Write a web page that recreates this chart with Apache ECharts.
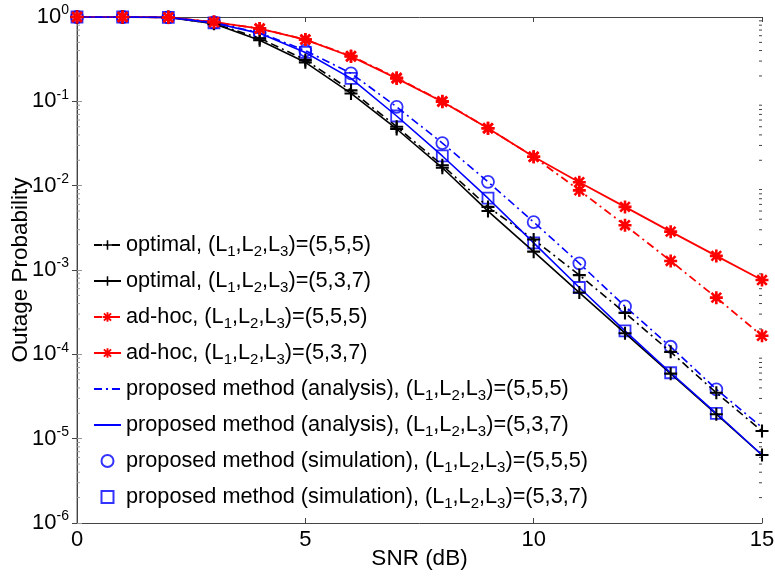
<!DOCTYPE html>
<html>
<head>
<meta charset="utf-8">
<script src="https://cdn.jsdelivr.net/npm/echarts@6/dist/echarts.min.js"></script>
<style>
  html, body { margin: 0; padding: 0; background: #fff; }
  #chart { width: 775px; height: 577px; }
</style>
</head>
<body>
<div id="chart"></div>
<script>
// SNR grid (dB)
const snr = [0, 1, 2, 3, 4, 5, 6, 7, 8, 9, 10, 11, 12, 13, 14, 15];

// Outage probability curves
const optimal555  = [1, 1, 0.99, 0.84, 0.56, 0.31, 0.135, 0.05, 0.0175, 0.0056, 0.0023, 0.00087, 0.00031, 0.000107, 3.5e-5, 1.23e-5];
const optimal537  = [1, 1, 0.99, 0.83, 0.53, 0.29, 0.124, 0.047, 0.0163, 0.0050, 0.00165, 0.00054, 0.000178, 5.9e-5, 1.95e-5, 6.4e-6];
const adhoc555    = [1, 1, 0.99, 0.87, 0.73, 0.54, 0.345, 0.19, 0.1, 0.048, 0.022, 0.0088, 0.0034, 0.00128, 0.00047, 0.000166];
const adhoc537    = [1, 1, 0.99, 0.87, 0.73, 0.54, 0.34, 0.187, 0.099, 0.048, 0.022, 0.011, 0.0056, 0.00285, 0.00147, 0.00076];
const analysis555 = [1, 1, 0.99, 0.86, 0.65, 0.40, 0.215, 0.086, 0.032, 0.0111, 0.0037, 0.0012, 0.00037, 0.000123, 3.85e-5, 1.36e-5];
const analysis537 = [1, 1, 0.99, 0.85, 0.64, 0.38, 0.187, 0.067, 0.0225, 0.0071, 0.0021, 0.00062, 0.00019, 6.05e-5, 2.0e-5, 6.4e-6];
// Monte-Carlo points (SNR 0..14)
const simSnr      = [0, 1, 2, 3, 4, 5, 6, 7, 8, 9, 10, 11, 12, 13, 14];
const simulation555 = [1, 1, 0.99, 0.86, 0.65, 0.40, 0.215, 0.086, 0.032, 0.0111, 0.0037, 0.0012, 0.00037, 0.000123, 3.85e-5];
const simulation537 = [1, 1, 0.99, 0.85, 0.64, 0.38, 0.187, 0.067, 0.0225, 0.0071, 0.0021, 0.00062, 0.00019, 6.05e-5, 2.0e-5];

// Axis ticks
const xTicks = [0, 5, 10, 15];
const yMinExp = -6, yMaxExp = 0;
const decadeSteps = [2, 3, 4, 5, 6, 7, 8, 9];

const pair = (xs, ys) => xs.map((x, i) => [x, ys[i]]);

// minor tick positions of the log axis: 2..9 times each decade
const minorTickValues = [];
for (let e = yMinExp; e < yMaxExp; e++) {
  decadeSteps.forEach(m => minorTickValues.push([m * Math.pow(10, e)]));
}

const PLUS = 'path://M0,4.2H10V5.8H0Z M4.2,0H5.8V10H4.2Z';
const STAR = 'path://M0,4.0H10V6.0H0Z M4.0,0H6.0V10H4.0Z M0.6,2.0L2.0,0.6L9.4,8.0L8.0,9.4Z M8.0,0.6L9.4,2.0L2.0,9.4L0.6,8.0Z';
const SQUARE = 'path://M0,0H10V10H0Z';
const DASHDOT = [8, 4, 2, 4];

const chart = echarts.init(document.getElementById('chart'), null, { renderer: 'canvas' });

const fontFamily = 'Liberation Sans, Arial, sans-serif';

const supRich = {
  b: { fontSize: 22, fontFamily, color: '#000', lineHeight: 24 },
  s: { fontSize: 14, fontFamily, color: '#000', lineHeight: 14, padding: [0, 0, 13, 0] }
};

const names = [
  'optimal, (L1,L2,L3)=(5,5,5)',
  'optimal, (L1,L2,L3)=(5,3,7)',
  'ad-hoc, (L1,L2,L3)=(5,5,5)',
  'ad-hoc, (L1,L2,L3)=(5,3,7)',
  'proposed method (analysis), (L1,L2,L3)=(5,5,5)',
  'proposed method (analysis), (L1,L2,L3)=(5,3,7)',
  'proposed method (simulation), (L1,L2,L3)=(5,5,5)',
  'proposed method (simulation), (L1,L2,L3)=(5,3,7)'
];

const option = {
  animation: false,
  backgroundColor: '#fff',
  grid: { left: 77, right: 13, top: 17, bottom: 54, outerBoundsMode: 'none', containLabel: false },
  legend: {
    orient: 'vertical',
    left: 93,
    top: 231,
    padding: 0,
    itemWidth: 27,
    itemHeight: 12,
    itemGap: 8,
    selectedMode: false,
    data: [
      { name: names[0] },
      { name: names[1] },
      { name: names[2] },
      { name: names[3] },
      { name: names[4], itemStyle: { opacity: 0 } },
      { name: names[5], itemStyle: { opacity: 0 } },
      { name: names[6], icon: 'circle' },
      { name: names[7], icon: SQUARE }
    ],
    textStyle: {
      fontSize: 21.7, fontFamily, color: '#000',
      rich: {
        sub: { fontSize: 15, fontFamily, color: '#000', lineHeight: 15, padding: [13, 0, 0, 0] }
      }
    },
    formatter: name => name.replace(/L(\d)/g, 'L{sub|$1}')
  },
  xAxis: [
    {
      type: 'value', min: 0, max: 15, interval: 5,
      name: 'SNR (dB)', nameLocation: 'middle', nameGap: 24, nameMoveOverlap: false,
      nameTextStyle: { fontSize: 22.5, fontFamily, color: '#000' },
      axisLine: { lineStyle: { color: '#444', width: 1 } },
      axisTick: { inside: true, length: 5, lineStyle: { color: '#444' } },
      axisLabel: { fontSize: 22, fontFamily, color: '#000', margin: 6,
        formatter: v => xTicks.includes(v) ? String(v) : '' },
      splitLine: { show: false }
    },
    {
      type: 'value', min: 0, max: 15, interval: 5, position: 'top',
      axisLine: { lineStyle: { color: '#444', width: 1 } },
      axisTick: { inside: true, length: 5, lineStyle: { color: '#444' } },
      axisLabel: { show: false },
      splitLine: { show: false }
    }
  ],
  yAxis: [
    {
      type: 'log', logBase: 10, min: Math.pow(10, yMinExp), max: Math.pow(10, yMaxExp),
      name: 'Outage Probability', nameLocation: 'middle', nameGap: 45, nameMoveOverlap: false,
      nameTextStyle: { fontSize: 22.5, fontFamily, color: '#000' },
      axisLine: { show: true, lineStyle: { color: '#999', width: 1.5 } },
      axisTick: { inside: true, length: 5, lineStyle: { color: '#999' } },
      minorTick: { show: false },
      axisLabel: {
        margin: 8,
        formatter: v => '{b|10}{s|' + Math.round(Math.log10(v)) + '}',
        rich: supRich
      },
      splitLine: { show: false }
    },
    {
      type: 'log', logBase: 10, min: Math.pow(10, yMinExp), max: Math.pow(10, yMaxExp),
      position: 'right',
      axisLine: { show: true, lineStyle: { color: '#444', width: 1 } },
      axisTick: { inside: true, length: 5, lineStyle: { color: '#444' } },
      minorTick: { show: false },
      axisLabel: { show: false },
      splitLine: { show: false }
    }
  ],
  series: [
    {
      name: names[0], type: 'line', data: pair(snr, optimal555),
      symbol: PLUS, symbolSize: 13, color: '#000',
      itemStyle: { color: '#000' },
      lineStyle: { color: '#000', width: 1.6, type: DASHDOT }
    },
    {
      name: names[1], type: 'line', data: pair(snr, optimal537),
      symbol: PLUS, symbolSize: 13, color: '#000',
      itemStyle: { color: '#000' },
      lineStyle: { color: '#000', width: 1.6, type: 'solid' }
    },
    {
      name: names[2], type: 'line', data: pair(snr, adhoc555),
      symbol: STAR, symbolSize: 13, color: '#ff0000',
      itemStyle: { color: '#ff0000' },
      lineStyle: { color: '#ff0000', width: 1.8, type: DASHDOT }
    },
    {
      name: names[3], type: 'line', data: pair(snr, adhoc537),
      symbol: STAR, symbolSize: 13, color: '#ff0000',
      itemStyle: { color: '#ff0000' },
      lineStyle: { color: '#ff0000', width: 1.8, type: 'solid' }
    },
    {
      name: names[4], type: 'line', data: pair(snr, analysis555),
      symbol: 'none', color: '#0000ff',
      lineStyle: { color: '#0000ff', width: 1.6, type: DASHDOT }
    },
    {
      name: names[5], type: 'line', data: pair(snr, analysis537),
      symbol: 'none', color: '#0000ff',
      lineStyle: { color: '#0000ff', width: 1.6, type: 'solid' }
    },
    {
      name: names[6], type: 'scatter', data: pair(simSnr, simulation555),
      symbol: 'circle', symbolSize: 12,
      itemStyle: { color: 'rgba(0,0,0,0)', borderColor: '#0000ff', borderWidth: 1.8 }
    },
    {
      name: names[7], type: 'scatter', data: pair(simSnr, simulation537),
      symbol: 'rect', symbolSize: 11,
      itemStyle: { color: 'rgba(0,0,0,0)', borderColor: '#0000ff', borderWidth: 1.8 }
    },
    {
      // minor ticks on the left and right log axes
      type: 'custom', name: 'minor ticks', silent: true, z: 1,
      data: minorTickValues,
      encode: { y: 0 },
      renderItem: (params, api) => {
        const v = api.value(0);
        const l = api.coord([0, v]);
        const r = api.coord([15, v]);
        return {
          type: 'group',
          children: [
            { type: 'line', shape: { x1: l[0], y1: l[1], x2: l[0] + 3, y2: l[1] },
              style: { stroke: '#999', lineWidth: 1 } },
            { type: 'line', shape: { x1: r[0], y1: r[1], x2: r[0] - 3, y2: r[1] },
              style: { stroke: '#444', lineWidth: 1 } }
          ]
        };
      }
    }
  ]
};

chart.setOption(option);
</script>
</body>
</html>
